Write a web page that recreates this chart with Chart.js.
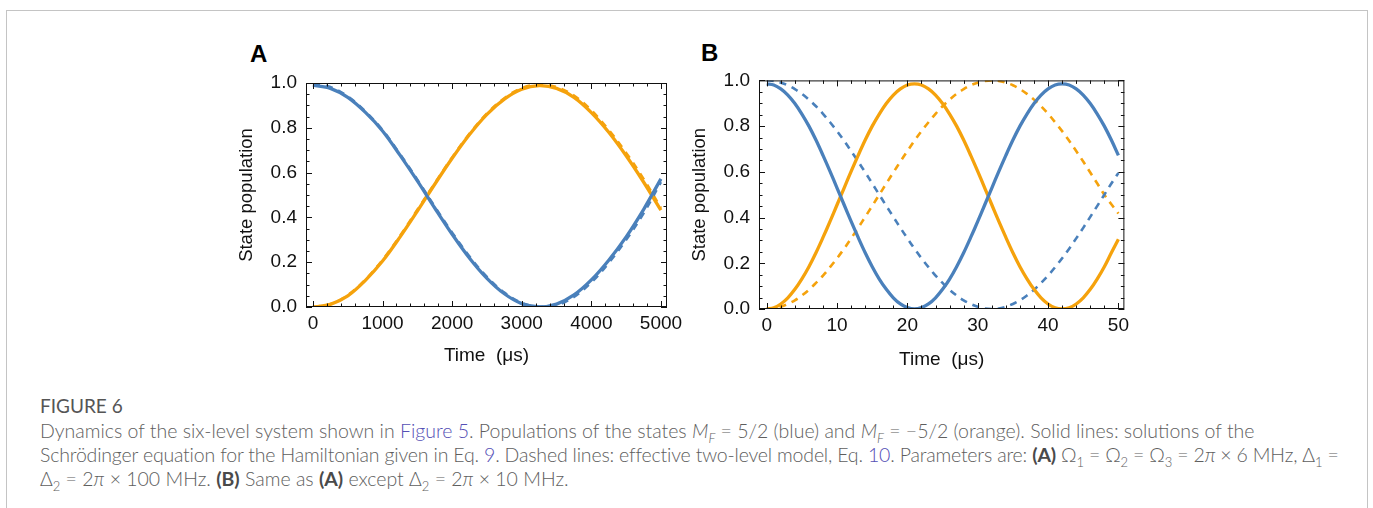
<!DOCTYPE html>
<html>
<head>
<meta charset="utf-8">
<script src="https://cdn.jsdelivr.net/npm/chart.js@4.4.0/dist/chart.umd.min.js"></script>
<style>
    body { margin: 0; background: #fff; width: 1373px; height: 508px; overflow: hidden; position: relative; }
    .frame { position: absolute; left: 6px; top: 10px; width: 1362px; height: 520px; border: 1.5px solid #c4c4c4; box-sizing: border-box; }
    .panel { position: absolute; font-family: "Liberation Sans", Arial, sans-serif; font-weight: bold; font-size: 24px; line-height: 24px; color: #000; }
    canvas { position: absolute; }
    .figno { position: absolute; left: 40px; top: 394px; font-family: Lato, "Open Sans", sans-serif; font-size: 19px; line-height: 24px; color: #555; font-weight: 400; }
    .caption { position: absolute; left: 40px; top: 419px; font-family: Lato, "Open Sans", sans-serif; font-size: 19.5px; line-height: 24px; color: #5e5e5e; font-weight: 300; white-space: nowrap; }
    .caption a { color: #5550b5; text-decoration: none; }
    .caption b { font-weight: bold; color: #4a4a4a; }
    .caption sub { font-size: 13px; line-height: 0; }
    .tight { letter-spacing: -0.18px; }
</style>
</head>
<body>
<div class="frame"></div>
<div class="panel" style="left:250px; top:42px;">A</div>
<div class="panel" style="left:701px; top:41px;">B</div>
<canvas id="chartA" width="472" height="320" style="left:228px; top:60px;"></canvas>
<canvas id="chartB" width="452" height="324" style="left:682px; top:60px;"></canvas>
<div class="figno">FIGURE 6</div>
<div class="caption">Dynamics of the six-level system shown in <a>Figure 5</a>. Populations of the states <i>M</i><sub><i>F</i></sub> = 5/2 (blue) and <i>M</i><sub><i>F</i></sub> = −5/2 (orange). Solid lines: solutions of the<br><span class="tight">Schrödinger equation for the Hamiltonian given in Eq. <a>9</a>. Dashed lines: effective two-level model, Eq. <a>10</a>. Parameters are: <b>(A)</b> Ω<sub>1</sub> = Ω<sub>2</sub> = Ω<sub>3</sub> = 2<i>π</i> × 6 MHz, Δ<sub>1</sub> =</span><br>Δ<sub>2</sub> = 2<i>π</i> × 100 MHz. <b>(B)</b> Same as <b>(A)</b> except Δ<sub>2</sub> = 2<i>π</i> × 10 MHz.</div>

<script>
// panel A : time in microseconds, step 250
const timeA = [0, 250, 500, 750, 1000, 1250, 1500, 1750, 2000, 2250, 2500, 2750, 3000, 3250, 3500, 3750, 4000, 4250, 4500, 4750, 5000];
const blueSolidA = [0.99, 0.976, 0.936, 0.87, 0.786, 0.678, 0.563, 0.442, 0.325, 0.218, 0.128, 0.059, 0.015, 0.0, 0.013, 0.054, 0.121, 0.209, 0.313, 0.435, 0.572];
const orangeSolidA = [0.0, 0.012, 0.05, 0.118, 0.205, 0.312, 0.428, 0.548, 0.664, 0.77, 0.86, 0.928, 0.972, 0.988, 0.976, 0.936, 0.868, 0.78, 0.675, 0.558, 0.432];
const blueDashA = [0.995, 0.982, 0.94, 0.874, 0.79, 0.683, 0.568, 0.448, 0.332, 0.225, 0.134, 0.064, 0.018, 0.001, 0.008, 0.045, 0.11, 0.197, 0.3, 0.418, 0.558];
const orangeDashA = [0.0, 0.013, 0.053, 0.121, 0.21, 0.317, 0.434, 0.552, 0.668, 0.774, 0.864, 0.932, 0.977, 0.993, 0.982, 0.944, 0.878, 0.79, 0.688, 0.572, 0.442];

// panel B : time in microseconds, step 1
const timeB = [0, 1, 2, 3, 4, 5, 6, 7, 8, 9, 10, 11, 12, 13, 14, 15, 16, 17, 18, 19, 20, 21, 22, 23, 24, 25, 26, 27, 28, 29, 30, 31, 32, 33, 34, 35, 36, 37, 38, 39, 40, 41, 42, 43, 44, 45, 46, 47, 48, 49, 50];
const blueSolidB = [0.985, 0.98, 0.963, 0.936, 0.899, 0.853, 0.8, 0.739, 0.672, 0.602, 0.529, 0.456, 0.383, 0.313, 0.246, 0.185, 0.131, 0.086, 0.049, 0.022, 0.006, 0.0, 0.006, 0.022, 0.049, 0.086, 0.131, 0.185, 0.246, 0.313, 0.383, 0.456, 0.529, 0.602, 0.672, 0.739, 0.8, 0.853, 0.899, 0.936, 0.963, 0.98, 0.985, 0.98, 0.963, 0.936, 0.899, 0.853, 0.8, 0.739, 0.672];
const orangeSolidB = [0.0, 0.005, 0.022, 0.049, 0.086, 0.132, 0.185, 0.246, 0.313, 0.383, 0.456, 0.529, 0.602, 0.672, 0.739, 0.8, 0.853, 0.899, 0.936, 0.963, 0.98, 0.985, 0.98, 0.963, 0.936, 0.899, 0.853, 0.8, 0.739, 0.672, 0.602, 0.529, 0.456, 0.383, 0.313, 0.246, 0.185, 0.132, 0.086, 0.049, 0.022, 0.005, 0.0, 0.005, 0.022, 0.049, 0.086, 0.132, 0.185, 0.246, 0.305];
const blueDashB = [1.0, 0.998, 0.99, 0.979, 0.962, 0.941, 0.916, 0.887, 0.854, 0.817, 0.778, 0.736, 0.691, 0.645, 0.598, 0.549, 0.5, 0.451, 0.403, 0.355, 0.309, 0.264, 0.222, 0.183, 0.146, 0.114, 0.084, 0.059, 0.038, 0.022, 0.01, 0.002, 0.0, 0.002, 0.01, 0.022, 0.038, 0.059, 0.084, 0.114, 0.146, 0.183, 0.222, 0.264, 0.309, 0.355, 0.403, 0.451, 0.5, 0.549, 0.595];
const orangeDashB = [0.0, 0.002, 0.01, 0.022, 0.038, 0.059, 0.084, 0.114, 0.146, 0.183, 0.222, 0.264, 0.309, 0.355, 0.403, 0.451, 0.5, 0.549, 0.597, 0.645, 0.691, 0.736, 0.778, 0.817, 0.854, 0.887, 0.916, 0.941, 0.962, 0.979, 0.99, 0.998, 1.0, 0.998, 0.99, 0.979, 0.962, 0.941, 0.916, 0.887, 0.854, 0.817, 0.778, 0.736, 0.691, 0.645, 0.597, 0.549, 0.5, 0.458, 0.418];

// tick labels
const xTicksA = [0, 1000, 2000, 3000, 4000, 5000];
const xTicksB = [0, 10, 20, 30, 40, 50];
const yTicks = [0, 0.2, 0.4, 0.6, 0.8, 1.0];

const BLUE = '#4a80bb';
const ORANGE = '#f5a20c';
const FONT = "'Liberation Sans', Arial, sans-serif";

// inward ticks on all four sides + black frame
const frameTicks = {
    id: 'frameTicks',
    afterDatasetsDraw(chart, args, opts) {
        const {ctx, chartArea: a} = chart;
        const x = chart.scales.x, y = chart.scales.y;
        ctx.save();
        ctx.strokeStyle = '#111';
        ctx.lineWidth = 1;
        ctx.strokeRect(a.left + 0.5, a.top + 0.5, a.right - a.left - 1, a.bottom - a.top - 1);
        ctx.beginPath();
        const near = (v, list) => list.some(m => Math.abs(m - v) < 1e-6);
        for (let v = Math.ceil(x.min / opts.xMinor) * opts.xMinor; v <= x.max; v += opts.xMinor) {
            const px = Math.round(x.getPixelForValue(v)) + 0.5;
            const len = near(v, opts.xMajor) ? 6 : 3.5;
            ctx.moveTo(px, a.bottom); ctx.lineTo(px, a.bottom - len);
            ctx.moveTo(px, a.top); ctx.lineTo(px, a.top + len);
        }
        for (let i = 0; i <= 20; i++) {
            const v = i * 0.05;
            const py = Math.round(y.getPixelForValue(v)) + 0.5;
            const len = i % 4 === 0 ? 6 : 3.5;
            ctx.moveTo(a.left, py); ctx.lineTo(a.left + len, py);
            ctx.moveTo(a.right, py); ctx.lineTo(a.right - len, py);
        }
        ctx.stroke();
        ctx.restore();
    }
};

function line(label, xs, ys, color, dashed) {
    return {
        label: label,
        data: xs.map((t, i) => ({x: t, y: ys[i]})),
        borderColor: color,
        backgroundColor: color,
        borderWidth: dashed ? 2.6 : 3.3,
        borderDash: dashed ? [7, 6] : [],
        pointRadius: 0,
        tension: 0.35,
        fill: false
    };
}

function drawPanel(canvasId, datasets, xMin, xMax, xTicks, xMinor, pad, yWidth, xHeight, yTitlePad) {
    const config = {
        type: 'line',
        data: { datasets: datasets },
        options: {
            responsive: false,
            animation: false,
            events: [],
            layout: { padding: pad },
            plugins: {
                legend: { display: false },
                tooltip: { enabled: false },
                frameTicks: { xMinor: xMinor, xMajor: xTicks }
            },
            scales: {
                x: {
                    type: 'linear',
                    min: xMin,
                    max: xMax,
                    grid: { display: false, drawTicks: false },
                    border: { display: false },
                    afterBuildTicks: s => { s.ticks = xTicks.map(v => ({value: v})); },
                    afterFit: s => { s.height = xHeight; },
                    ticks: {
                        autoSkip: false,
                        maxRotation: 0,
                        padding: 5,
                        color: '#111',
                        font: { family: FONT, size: 19 },
                        callback: v => String(v)
                    },
                    title: {
                        display: true,
                        text: 'Time  (μs)',
                        color: '#111',
                        font: { family: FONT, size: 19 },
                        padding: { top: 0, bottom: 13 }
                    }
                },
                y: {
                    min: 0,
                    max: 1,
                    grid: { display: false, drawTicks: false },
                    border: { display: false },
                    afterBuildTicks: s => { s.ticks = yTicks.map(v => ({value: v})); },
                    afterFit: s => { s.width = yWidth; },
                    ticks: {
                        padding: 9,
                        color: '#111',
                        font: { family: FONT, size: 19 },
                        callback: v => v.toFixed(1)
                    },
                    title: {
                        display: true,
                        text: 'State population',
                        color: '#111',
                        font: { family: FONT, size: 18.5 },
                        padding: { top: yTitlePad, bottom: 0 }
                    }
                }
            }
        },
        plugins: [frameTicks]
    };

    const myChart = new Chart(document.getElementById(canvasId), config);
}

drawPanel('chartA', [
    line('M_F = 5/2', timeA, blueSolidA, BLUE, false),
    line('M_F = -5/2', timeA, orangeSolidA, ORANGE, false),
    line('M_F = 5/2 (two-level)', timeA, blueDashA, BLUE, true),
    line('M_F = -5/2 (two-level)', timeA, orangeDashA, ORANGE, true)
], -100, 5087, xTicksA, 200, {top: 23, right: 33, bottom: 0, left: 0}, 78, 73, 8);

drawPanel('chartB', [
    line('M_F = 5/2', timeB, blueSolidB, BLUE, false),
    line('M_F = -5/2', timeB, orangeSolidB, ORANGE, false),
    line('M_F = 5/2 (two-level)', timeB, blueDashB, BLUE, true),
    line('M_F = -5/2 (two-level)', timeB, orangeDashB, ORANGE, true)
], -1.1, 50.85, xTicksB, 2, {top: 18, right: 2, bottom: 0, left: 0}, 77, 75, 7);
</script>
</body>
</html>
